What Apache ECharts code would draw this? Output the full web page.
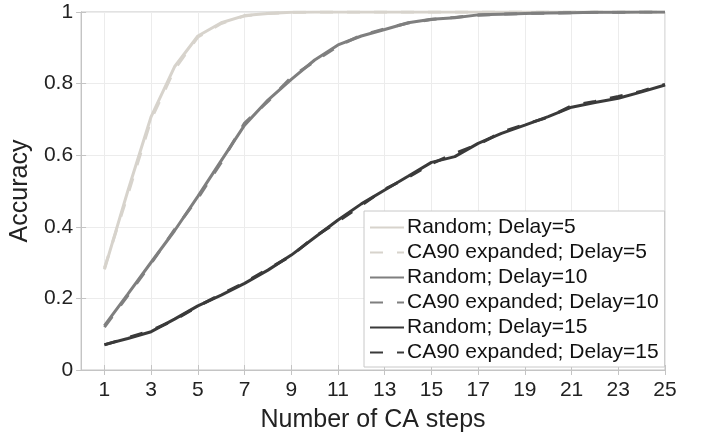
<!DOCTYPE html>
<html>
<head>
<meta charset="utf-8">
<script src="https://cdn.jsdelivr.net/npm/echarts@6/dist/echarts.min.js"></script>
<style>
  html, body { margin: 0; padding: 0; background: #fff; }
  #chart { width: 707px; height: 438px; }
</style>
</head>
<body>
<div id="chart"></div>
<script>
// CA steps 1..25
var steps = [];
for (var i = 1; i <= 25; i++) steps.push(i);
var tickValues = [1, 3, 5, 7, 9, 11, 13, 15, 17, 19, 21, 23, 25];

// accuracy
var random5 = [0.281, 0.500, 0.708, 0.847, 0.933, 0.970, 0.990, 0.996, 0.999, 1, 1, 1, 1, 1, 1, 1, 1, 1, 1, 1, 1, 1, 1, 1, 1];
var ca90_5 = [0.285, 0.490, 0.700, 0.840, 0.930, 0.968, 0.989, 0.996, 0.999, 1, 1, 1, 1, 1, 1, 1, 1, 1, 1, 1, 1, 1, 1, 1, 1];
var random10 = [0.124, 0.212, 0.301, 0.389, 0.485, 0.585, 0.684, 0.754, 0.812, 0.866, 0.908, 0.933, 0.951, 0.970, 0.980, 0.984, 0.992, 0.994, 0.996, 0.997, 0.998, 0.999, 0.999, 1.0, 1.0];
var ca90_10 = [0.120, 0.208, 0.298, 0.392, 0.480, 0.580, 0.690, 0.750, 0.818, 0.862, 0.905, 0.935, 0.953, 0.969, 0.979, 0.985, 0.991, 0.994, 0.996, 0.997, 0.998, 0.999, 0.999, 1.0, 1.0];
var random15 = [0.071, 0.088, 0.107, 0.142, 0.179, 0.209, 0.242, 0.279, 0.321, 0.370, 0.419, 0.464, 0.503, 0.541, 0.580, 0.596, 0.633, 0.661, 0.684, 0.708, 0.734, 0.747, 0.759, 0.777, 0.796];
var ca90_15 = [0.070, 0.090, 0.110, 0.140, 0.178, 0.212, 0.244, 0.282, 0.319, 0.372, 0.415, 0.460, 0.505, 0.538, 0.576, 0.605, 0.630, 0.664, 0.686, 0.706, 0.738, 0.750, 0.764, 0.779, 0.798];

var names = ['Random; Delay=5', 'CA90 expanded; Delay=5', 'Random; Delay=10',
             'CA90 expanded; Delay=10', 'Random; Delay=15', 'CA90 expanded; Delay=15'];
var values = [random5, ca90_5, random10, ca90_10, random15, ca90_15];
var colors = ['#d7d3cc', '#d7d3cc', '#7f7f7f', '#7f7f7f', '#3a3a3a', '#3a3a3a'];

var font = 'Liberation Sans, Helvetica, Arial, sans-serif';
var axisGray = '#c4c4c4';

function pairs(arr) {
    return arr.map(function (v, k) { return [steps[k], v]; });
}

var myChart = echarts.init(document.getElementById('chart'));

var series = values.map(function (arr, k) {
    var dashed = k % 2 === 1;
    return {
        name: names[k],
        type: 'line',
        data: pairs(arr),
        symbol: 'none',
        smooth: false,
        z: 2 + k,
        lineStyle: {
            color: colors[k],
            width: 3,
            type: dashed ? [13, 14] : 'solid'
        },
        itemStyle: { color: colors[k] }
    };
});

var option = {
    animation: false,
    backgroundColor: '#fff',
    color: colors,
    grid: { left: 78, right: 42, top: 12, bottom: 68, show: true, borderColor: axisGray, borderWidth: 1 },
    legend: {
        orient: 'vertical',
        left: 364,
        top: 211,
        itemWidth: 34,
        itemHeight: 14,
        itemGap: 4,
        padding: [6, 6, 4, 5],
        backgroundColor: '#fff',
        borderColor: '#c8c8c8',
        borderWidth: 1,
        borderRadius: 0,
        itemStyle: { opacity: 0 },
        data: names,
        textStyle: { fontFamily: font, fontSize: 21, color: '#111', padding: [0, 0, 0, -2] }
    },
    xAxis: [{
        type: 'value',
        min: 0,
        max: 25,
        name: 'Number of CA steps',
        nameLocation: 'middle',
        nameGap: 38,
        nameTextStyle: { fontFamily: font, fontSize: 25, color: '#222' },
        axisLine: { show: true, lineStyle: { color: axisGray, width: 1 } },
        axisTick: { show: true, inside: true, length: 5, customValues: tickValues, lineStyle: { color: axisGray } },
        axisLabel: { customValues: tickValues, fontFamily: font, fontSize: 21, color: '#222', margin: 10 },
        splitLine: { show: true, customValues: tickValues, lineStyle: { color: '#ececec', width: 1 } }
    }, {
        type: 'value',
        position: 'top',
        min: 0,
        max: 25,
        axisLine: { show: true, lineStyle: { color: axisGray } },
        axisTick: { show: true, inside: true, length: 5, customValues: tickValues, lineStyle: { color: axisGray } },
        axisLabel: { show: false },
        splitLine: { show: false }
    }],
    yAxis: [{
        type: 'value',
        min: 0,
        max: 1,
        interval: 0.2,
        name: 'Accuracy',
        nameLocation: 'middle',
        nameRotate: 90,
        nameGap: 45,
        nameTextStyle: { fontFamily: font, fontSize: 25, color: '#222' },
        axisLine: { show: true, lineStyle: { color: axisGray, width: 1 } },
        axisTick: { show: true, inside: true, length: 5, lineStyle: { color: axisGray } },
        axisLabel: { fontFamily: font, fontSize: 21, color: '#222', margin: 8 },
        splitLine: { show: true, lineStyle: { color: '#ececec', width: 1 } }
    }, {
        type: 'value',
        position: 'right',
        min: 0,
        max: 1,
        interval: 0.2,
        axisLine: { show: true, lineStyle: { color: axisGray } },
        axisTick: { show: true, inside: true, length: 5, lineStyle: { color: axisGray } },
        axisLabel: { show: false },
        splitLine: { show: false }
    }],
    series: series
};
myChart.setOption(option);
</script>
</body>
</html>
